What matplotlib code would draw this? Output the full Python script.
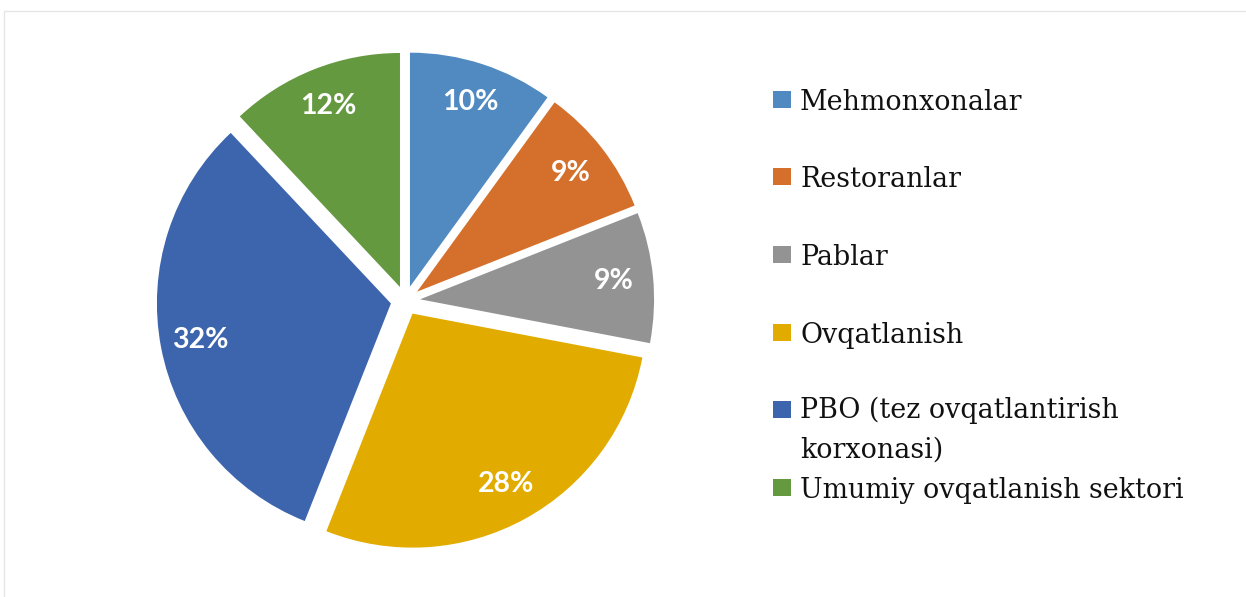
import matplotlib
matplotlib.use("Agg")
from matplotlib import pyplot as plt
from matplotlib.patches import Rectangle

# Data
labels = [
    "Mehmonxonalar",
    "Restoranlar",
    "Pablar",
    "Ovqatlanish",
    "PBO (tez ovqatlantirish\nkorxonasi)",
    "Umumiy ovqatlanish sektori",
]
shares = [10, 9, 9, 28, 32, 12]
colors = ["#508AC0", "#D4702C", "#939393", "#E2AB00", "#3D65AD", "#64993F"]

W, H = 1246, 597
fig = plt.figure(figsize=(W / 100, H / 100), dpi=100)

# light chart-area border
fig.patches.append(
    Rectangle((4 / W, -0.05), 1.1, 1.05 - 11 / H, transform=fig.transFigure,
              fill=False, edgecolor="#E6E6E6", lw=1.0)
)

# pie axes: centre at (405, 301) px, radius 234 px
R, cx, cy = 234, 405.4, 300.7
half = 1.2 * R
ax = fig.add_axes([(cx - half) / W, (H - cy - half) / H, 2 * half / W, 2 * half / H])
wedges, _, autotexts = ax.pie(
    shares,
    colors=colors,
    startangle=90,
    counterclock=False,
    explode=[0.063] * len(shares),
    autopct="%1.0f%%",
    pctdistance=0.83,
    textprops=dict(color="white", fontsize=20.5, fontweight="bold", family="Lato"),
)
ax.set_xlim(-1.2, 1.2)
ax.set_ylim(-1.2, 1.2)
ax.axis("off")

# legend drawn by hand (Excel-style uneven spacing for the wrapped entry)
baselines = [109.5, 187, 265, 343, 420, 498]
line_gap = 38
for lab, col, yb in zip(labels, colors, baselines):
    fig.patches.append(
        Rectangle((773 / W, (H - yb + 2) / H), 18 / W, 17 / H,
                  transform=fig.transFigure, facecolor=col, edgecolor="none")
    )
    # va="baseline" anchors the last line, so shift wrapped entries down
    extra = (lab.count("\n")) * line_gap
    fig.text(800 / W, (H - yb - extra) / H, lab, ha="left", va="baseline",
             fontsize=19.4, family="DejaVu Serif", color="#111111",
             linespacing=1.62)

fig.savefig("out.png", dpi=100, facecolor="w")
